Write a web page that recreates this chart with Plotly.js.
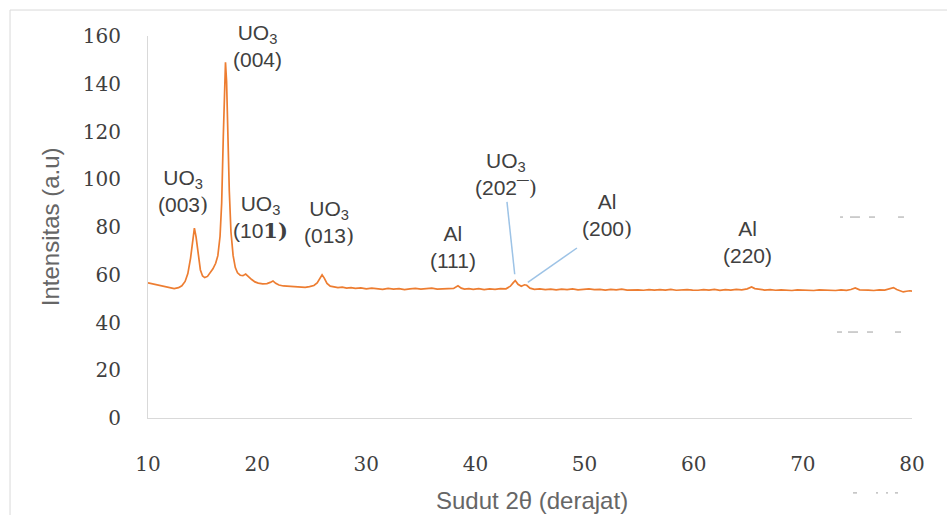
<!DOCTYPE html>
<html>
<head>
<meta charset="utf-8">
<script src="https://cdn.plot.ly/plotly-3.0.1.min.js"></script>
<style>
  html, body { margin: 0; padding: 0; background: #ffffff; }
  #chart { width: 947px; height: 515px; }
</style>
</head>
<body>
<div id="chart"></div>
<script>
// 2θ (degrees)
var angle = [
  10, 10.4, 10.8, 11.2, 11.6, 12, 12.4, 12.8, 13.1, 13.4,
  13.65, 13.9, 14.1, 14.25, 14.4, 14.6, 14.8, 15, 15.2, 15.45,
  15.7, 15.95, 16.2, 16.4, 16.6, 16.75, 16.9, 17.02, 17.1, 17.2,
  17.32, 17.45, 17.6, 17.8, 18, 18.2, 18.45, 18.7, 18.95, 19.2,
  19.5, 19.8, 20.1, 20.5, 20.9, 21.2, 21.45, 21.7, 22, 22.4,
  22.8, 23.2, 23.6, 24, 24.4, 24.8, 25.2, 25.5, 25.75, 25.95,
  26.15, 26.4, 26.7, 27, 27.4, 27.8, 28.2, 28.6, 29, 29.5,
  30, 30.5, 31, 31.5, 32, 32.5, 33, 33.5, 34, 34.5,
  35, 35.5, 36, 36.5, 37, 37.5, 38, 38.4, 38.7, 39,
  39.4, 39.8, 40.3, 40.8, 41.3, 41.8, 42.3, 42.8, 43.2, 43.45,
  43.65, 43.9, 44.2, 44.5, 44.7, 45, 45.4, 45.9, 46.4, 46.9,
  47.4, 47.9, 48.4, 48.9, 49.4, 49.9, 50.4, 50.9, 51.4, 51.9,
  52.4, 52.9, 53.4, 53.9, 54.4, 54.9, 55.4, 55.9, 56.4, 56.9,
  57.4, 57.9, 58.4, 58.9, 59.4, 59.9, 60.4, 60.9, 61.4, 61.9,
  62.4, 62.9, 63.4, 63.9, 64.4, 64.9, 65.3, 65.6, 66, 66.5,
  67, 67.5, 68, 68.5, 69, 69.5, 70, 70.5, 71, 71.5,
  72, 72.5, 73, 73.5, 74, 74.4, 74.8, 75.2, 75.6, 76,
  76.5, 77, 77.5, 77.9, 78.3, 78.6, 78.9, 79.2, 79.5, 79.8,
  80
];
// Intensitas (a.u)
var intensity = [
  56.6, 56.2, 55.9, 55.3, 54.9, 54.4, 54.2, 54.6, 55.4, 57.2,
  60.5, 67, 74.5, 79.5, 76, 68, 62, 59.5, 58.8, 59.3,
  60.8, 62.5, 64.8, 68, 76, 90, 118, 142, 149, 141,
  118, 95, 78, 68, 63, 60.8, 59.8, 59.6, 60.3, 59.2,
  58, 57, 56.5, 56.2, 56.3, 56.8, 57.4, 56.4, 55.7, 55.3,
  55.2, 55, 54.8, 54.9, 54.7, 55, 55.5, 56.6, 58.5, 60,
  58.6, 56.4, 55.2, 54.9, 54.6, 54.8, 54.4, 54.6, 54.3, 54.5,
  54.1, 54.4, 54.2, 53.9, 54.3, 54, 54.2, 53.8, 54.1, 54.3,
  54, 54.2, 54.4, 54, 54.2, 54.1, 54.3, 55.4, 54.4, 54,
  54.2, 53.9, 54.2, 53.8, 54.1, 53.9, 54.2, 54.1, 55.2, 56.6,
  57.6, 56, 55.2, 55.8, 55.6, 54.4, 53.9, 54.1, 53.8, 54,
  53.7, 54, 53.8, 54.1, 53.7, 53.9, 54.1, 53.8, 53.9, 53.6,
  53.9, 53.7, 54, 53.6, 53.8, 53.7, 53.5, 53.8, 53.6, 53.8,
  53.6, 53.9, 53.5, 53.7, 53.8, 53.6, 53.5, 53.8, 53.6, 53.9,
  53.5, 53.8, 53.6, 53.9, 53.7, 54.1, 54.9, 54.2, 53.8, 53.6,
  53.8, 53.5, 53.7, 53.6, 53.4, 53.7, 53.5, 53.6, 53.4, 53.7,
  53.5, 53.6, 53.4, 53.7, 53.5, 53.8, 54.5, 53.7, 53.5, 53.6,
  53.4, 53.7, 53.6, 54, 54.6, 53.8, 53.2, 52.8, 53.1, 53.3,
  53.1
];

// Peak labels
var peakLabels = [
  "UO<sub>3</sub><br>(003<span style='font-family:DejaVu Serif'>)</span>",
  "UO<sub>3</sub><br>(004)",
  "UO<sub>3</sub><br>(10<span style='font-family:DejaVu Serif;font-weight:bold'>1)</span>",
  "UO<sub>3</sub><br>(013<span style='font-family:DejaVu Serif'>)</span>",
  "Al<br>(111)",
  "UO<sub>3</sub><br>(202\u00AF<span style='font-family:DejaVu Serif'>)</span>",
  "Al<br>(200<span style='font-family:DejaVu Serif'>)</span>",
  "Al<br>(220)"
];
var labelX = [13.2, 20.0, 20.35, 26.6, 37.95, 42.8, 52.05, 64.97];
var labelY = [95, 156, 84, 82, 71.6, 102, 85, 73.7];

var xTicks = [10, 20, 30, 40, 50, 60, 70, 80];
var yTicks = [0, 20, 40, 60, 80, 100, 120, 140, 160];

var textColor = '#404040';
var axisColor = '#d9d9d9';

var annotations = peakLabels.map(function (t, i) {
  return {
    x: labelX[i], y: labelY[i], xref: 'x', yref: 'y',
    text: t, showarrow: false,
    font: { family: 'Liberation Sans, Arial, sans-serif', size: 21, color: textColor },
    xanchor: 'center', yanchor: 'middle', align: 'center'
  };
});
annotations.push({
  x: -0.128, y: 0.5, xref: 'paper', yref: 'paper', textangle: -90,
  text: 'Intensitas (a.u)', showarrow: false,
  font: { family: 'Liberation Sans, Arial, sans-serif', size: 24, color: '#666666' },
  xanchor: 'center', yanchor: 'middle'
});
annotations.push({
  x: 0.5026, y: -0.215, xref: 'paper', yref: 'paper',
  text: 'Sudut 2\u03B8 (derajat)', showarrow: false,
  font: { family: 'Liberation Sans, Arial, sans-serif', size: 24, color: '#666666' },
  xanchor: 'center', yanchor: 'middle'
});

var shapes = [
  // outer chart frame
  { type: 'rect', xref: 'paper', yref: 'paper', x0: -0.1806, x1: 1.2, y0: -0.4, y1: 1.068,
    line: { color: '#d9d9d9', width: 1 }, fillcolor: 'rgba(0,0,0,0)', layer: 'below' },
  // leader lines
  { type: 'line', xref: 'x', yref: 'y', x0: 42.89, y0: 90.5, x1: 43.6, y1: 60.2,
    line: { color: '#9dc3e6', width: 1.5 } },
  { type: 'line', xref: 'x', yref: 'y', x0: 49.3, y0: 71.2, x1: 44.8, y1: 56.8,
    line: { color: '#9dc3e6', width: 1.5 } }
];
// faint dashed remnants on the right
var dashRows = [
  { y: 0.526, segs: [[0.9058, 0.9097], [0.9188, 0.9319], [0.9437, 0.9516], [0.9817, 0.9895]] },
  { y: 0.225, segs: [[0.9018, 0.9084], [0.9162, 0.9293], [0.9411, 0.9490], [0.9777, 0.9856]] },
  { y: -0.196, segs: [[0.9228, 0.9280], [0.9529, 0.9555], [0.9660, 0.9686], [0.9777, 0.9817]] }
];
dashRows.forEach(function (r) {
  r.segs.forEach(function (s) {
    shapes.push({ type: 'line', xref: 'paper', yref: 'paper', x0: s[0], x1: s[1], y0: r.y, y1: r.y,
      line: { color: '#bfbfbf', width: 1.5 } });
  });
});

var trace = {
  x: angle, y: intensity, type: 'scatter', mode: 'lines',
  line: { color: '#ed7d31', width: 1.7 },
  hoverinfo: 'skip'
};

var layout = {
  width: 947, height: 515,
  margin: { l: 148, r: 35, t: 36, b: 97, pad: 0 },
  paper_bgcolor: '#ffffff', plot_bgcolor: '#ffffff',
  showlegend: false,
  xaxis: {
    range: [10, 80], tickvals: xTicks, ticktext: xTicks.map(String),
    showgrid: false, zeroline: false, showline: true, linecolor: axisColor, linewidth: 1,
    ticks: '', ticklabelstandoff: 28,
    tickfont: { family: 'DejaVu Serif, serif', size: 20, color: '#404040' }
  },
  yaxis: {
    range: [0, 160], tickvals: yTicks, ticktext: yTicks.map(String),
    showgrid: false, zeroline: false, showline: true, linecolor: axisColor, linewidth: 1,
    ticks: '', ticklabelstandoff: 22,
    tickfont: { family: 'DejaVu Serif, serif', size: 20, color: '#404040' }
  },
  annotations: annotations,
  shapes: shapes
};

Plotly.newPlot('chart', [trace], layout, { staticPlot: true, displayModeBar: false });
</script>
</body>
</html>
